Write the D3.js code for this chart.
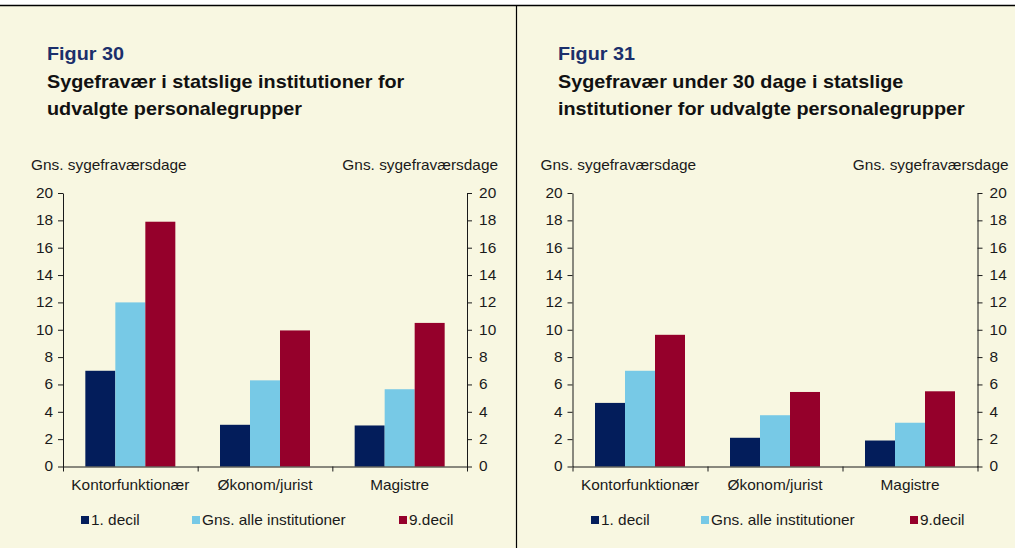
<!DOCTYPE html>
<html>
<head>
<meta charset="utf-8">
<script src="https://cdn.jsdelivr.net/npm/d3@7"></script>
<style>
    body { margin: 0; background: #fff; }
    svg { display: block; font-family: "Liberation Sans", Arial, sans-serif; }
    .axis path, .axis line { stroke: #1a1a1a; }
    .axis text { font-size: 14px; fill: #1a1a1a; font-family: "Liberation Sans", Arial, sans-serif; }
</style>
</head>
<body>
<div id="charts"></div>
<script>
const categories = ["Kontorfunktionær", "Økonom/jurist", "Magistre"];
const series_names = ["1. decil", "Gns. alle institutioner", "9.decil"];
const series_colors = ["#031d5b", "#77c9e6", "#95002b"];
const y_ticks = [0, 2, 4, 6, 8, 10, 12, 14, 16, 18, 20];

// figur 30: alle fravær
const fig30_decil1 = [7.0, 3.05, 3.0];
const fig30_avg = [12.0, 6.3, 5.65];
const fig30_decil9 = [17.9, 9.95, 10.5];

// figur 31: fravær under 30 dage
const fig31_decil1 = [4.65, 2.1, 1.9];
const fig31_avg = [7.0, 3.75, 3.2];
const fig31_decil9 = [9.63, 5.45, 5.5];

const svg_width = 1015, svg_height = 548;
const stretch = 1.1; // the text in the original is a bit wide

let svg = d3.select("#charts").append("svg")
    .attr("width", svg_width)
    .attr("height", svg_height);

svg.append("rect")
    .attr("x", 0).attr("y", 5)
    .attr("width", svg_width).attr("height", svg_height - 5)
    .attr("fill", "#f8f7e1");
svg.append("line")
    .attr("x1", 0).attr("x2", svg_width)
    .attr("y1", 5.5).attr("y2", 5.5)
    .attr("stroke", "#000").attr("stroke-width", 1.5);
svg.append("line")
    .attr("x1", 516.5).attr("x2", 516.5)
    .attr("y1", 5).attr("y2", svg_height)
    .attr("stroke", "#000").attr("stroke-width", 1.2);

function label(g, x, y, txt, size, opts = {}) {
    return g.append("text")
        .attr("transform", "translate(" + x + "," + y + ") scale(" + stretch + ",1)")
        .attr("text-anchor", opts.anchor || "start")
        .attr("font-size", size + "px")
        .attr("font-weight", opts.bold ? "bold" : "normal")
        .attr("fill", opts.color || "#1a1a1a")
        .text(txt);
}

function draw_panel(p) {
    let g = svg.append("g");

    label(g, p.title_x, 60, p.figur, 18, {bold: true, color: "#1b2f6b"});
    p.title.forEach((line, i) => {
        label(g, p.title_x, 88 + i * 27, line, 18, {bold: true, color: "#111"});
    });

    let y = d3.scaleLinear()
        .domain([0, 20])
        .range([466.5, 193]);
    let x0 = d3.scaleBand()
        .domain(categories)
        .range([p.left, p.right]);
    let bw = x0.bandwidth();
    let x1 = d3.scaleBand()
        .domain(series_names)
        .range([(bw - 90) / 2, (bw + 90) / 2]);
    let xb = d3.scaleLinear()
        .domain([0, categories.length])
        .range([p.left, p.right]);

    label(g, p.left - 32, 170, "Gns. sygefraværsdage", 14);
    label(g, p.right + 31, 170, "Gns. sygefraværsdage", 14, {anchor: "end"});

    const rows = p.values;
    g.selectAll(".grp")
        .data(categories)
        .enter()
        .append("g")
        .attr("transform", c => "translate(" + x0(c) + ",0)")
        .selectAll("rect")
        .data((c, ci) => series_names.map((s, si) => ({s: s, v: rows[si][ci], si: si})))
        .enter()
        .append("rect")
        .attr("x", d => x1(d.s))
        .attr("width", x1.bandwidth())
        .attr("y", d => y(d.v))
        .attr("height", d => y(0) - y(d.v))
        .attr("fill", d => series_colors[d.si]);

    g.append("g")
        .attr("class", "axis")
        .attr("transform", "translate(" + p.left + ",0)")
        .call(d3.axisLeft(y).tickValues(y_ticks).tickSize(5).tickSizeOuter(0).tickPadding(4))
        .selectAll("text").attr("transform", "scale(" + stretch + ",1)");
    g.append("g")
        .attr("class", "axis")
        .attr("transform", "translate(" + p.right + ",0)")
        .call(d3.axisRight(y).tickValues(y_ticks).tickSize(5).tickSizeOuter(0).tickPadding(6))
        .selectAll("text").attr("transform", "scale(" + stretch + ",1)");
    g.append("g")
        .attr("class", "axis")
        .attr("transform", "translate(0," + y(0) + ")")
        .call(d3.axisBottom(xb).tickValues(d3.range(categories.length + 1))
            .tickFormat("").tickSize(5).tickSizeOuter(0));

    categories.forEach(c => {
        label(g, x0(c) + bw / 2, 490, c, 14, {anchor: "middle"});
    });

    // legend
    series_names.forEach((s, i) => {
        g.append("rect")
            .attr("x", p.legend_x[i]).attr("y", 516)
            .attr("width", 8).attr("height", 8)
            .attr("fill", series_colors[i]);
        label(g, p.legend_x[i] + 10, 525, s, 14);
    });
}

draw_panel({
    figur: "Figur 30",
    title: ["Sygefravær i statslige institutioner for", "udvalgte personalegrupper"],
    title_x: 47,
    left: 63, right: 467,
    values: [fig30_decil1, fig30_avg, fig30_decil9],
    legend_x: [81, 192, 399]
});
draw_panel({
    figur: "Figur 31",
    title: ["Sygefravær under 30 dage i statslige", "institutioner for udvalgte personalegrupper"],
    title_x: 558,
    left: 572.5, right: 977.5,
    values: [fig31_decil1, fig31_avg, fig31_decil9],
    legend_x: [591, 701, 910]
});
</script>
</body>
</html>
